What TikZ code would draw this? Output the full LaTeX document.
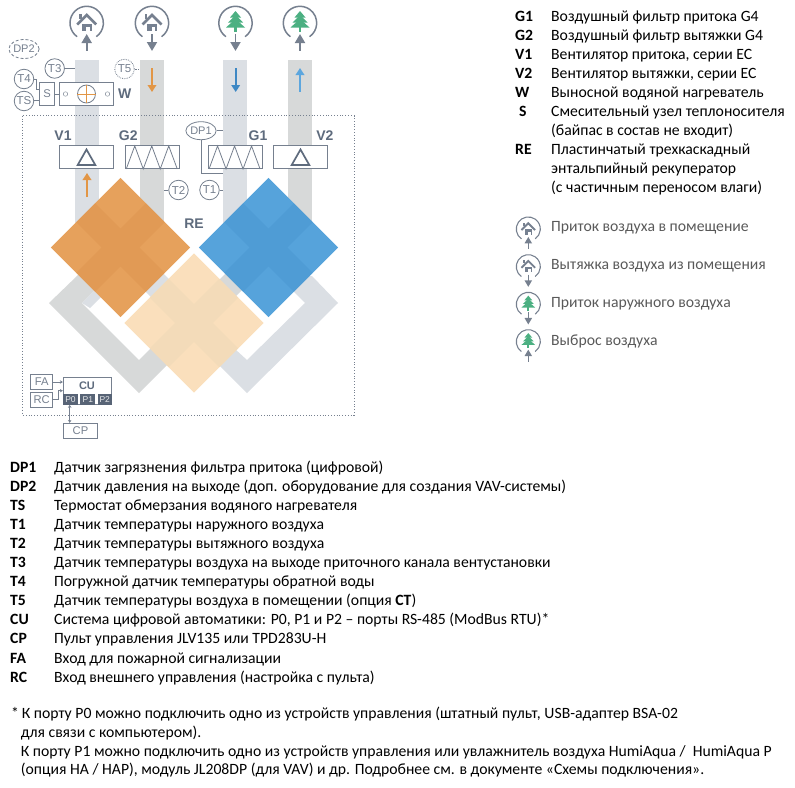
\documentclass[tikz,border=0pt]{standalone}
\usepackage{fontspec}
\setmainfont{Carlito}
\newfontfamily\schemefont{Liberation Sans}
\usepackage{xcolor}
\usetikzlibrary{positioning,arrows.meta,calc,shapes.geometric}
\definecolor{ductblue}{RGB}{219,223,228}
\definecolor{ductgray}{RGB}{215,217,217}
\definecolor{linegray}{RGB}{118,128,143}
\definecolor{inkgray}{RGB}{94,107,125}
\definecolor{portdark}{RGB}{88,100,118}
\definecolor{heatorange}{RGB}{226,150,70}
\definecolor{coldblue}{RGB}{62,136,196}
\definecolor{paleblue}{RGB}{92,166,222}
\definecolor{treegreen}{RGB}{76,176,130}
\definecolor{legendgray}{RGB}{89,89,89}
\definecolor{recorange}{RGB}{230,161,92}
\definecolor{recorangedark}{RGB}{216,142,72}
\definecolor{recblue}{RGB}{86,163,219}
\definecolor{recbluedark}{RGB}{68,145,204}
\definecolor{recpale}{RGB}{250,223,188}
\definecolor{recpaledark}{RGB}{230,213,180}
% house and tree drawn round the origin of the icon
\newcommand{\houseicon}[1]{
  \fill[inkgray!85] (-4.8,0.5) rectangle (4.8,8);
  \fill[white] (-0.4,3.5) rectangle (3.2,8);
  \fill[linegray] (-7.5,-4.5) rectangle (-4.7,-9);
  \draw[linegray, line width=#1*2.6pt] (-9.5,1.5) -- (0,-8) -- (9.5,1.5);
}
\newcommand{\treeicon}[1]{
  \fill[treegreen] (0,-12) -- (5.5,-5.5) -- (-5.5,-5.5) -- cycle;
  \fill[treegreen] (0,-8) -- (7.5,-0.5) -- (-7.5,-0.5) -- cycle;
  \fill[treegreen] (0,-4) -- (9.5,4.5) -- (-9.5,4.5) -- cycle;
  \fill[treegreen] (-1.2,4) rectangle (1.2,9);
}
\newcommand{\recdiamond}[3]{
  \begin{scope}[shift={#1}, rotate=45]
    \fill[#2] (-49.2,-49.2) rectangle (49.2,49.2);
    \fill[#3, fill opacity=0.35] (-49.2,-13.4) rectangle (49.2,13.4) (-13.4,-49.2) rectangle (13.4,49.2);
  \end{scope}
}
\begin{document}
\begin{tikzpicture}[x=1pt, y=-1pt,
  sensor/.style={draw=linegray, circle, minimum size=19.5pt, inner sep=0pt, font=\schemefont\fontsize{11.5}{11.5}\selectfont, text=linegray, fill=white, line width=0.8pt},
  optsensor/.style={sensor, densely dotted},
  unitbox/.style={draw=linegray, minimum height=23pt, inner sep=0pt, fill=white, line width=0.9pt},
  tagbox/.style={draw=linegray, inner sep=0pt, line width=0.9pt, fill=white, font=\schemefont\fontsize{11.2}{11.2}\selectfont, text=linegray},
  port/.style={fill=portdark, minimum height=10.7pt, inner sep=0pt, font=\schemefont\fontsize{8.5}{8.5}\selectfont, text=white!85!portdark},
  tag/.style={font=\schemefont\bfseries\fontsize{14}{14}\selectfont, text=inkgray, inner sep=0pt},
  wire/.style={draw=linegray, line width=0.8pt},
  arr/.style={wire, -{Stealth[length=3pt,width=3.5pt]}},
  flow/.style={line width=1.9pt, -{Triangle[length=7pt,width=8.5pt]}},
  flowup/.style={<-},
  flowdown/.style={->},
  lbl/.style={anchor=mid west, inner sep=0pt, yshift=-2pt, font=\fontsize{15.7}{15.7}\selectfont},
  key/.style={lbl, font=\bfseries\fontsize{15.7}{15.7}\selectfont}]
\useasboundingbox (0,0) rectangle (795,787);
% ducts
\fill[ductblue] (75,60) rectangle (98.7,240);
\fill[ductgray] (140,60) rectangle (164,240);
\fill[ductblue] (223,60) rectangle (247,240);
\fill[ductgray] (288,60) rectangle (312,240);
\fill[ductgray] (49,303) -- (139,393) -- (175,357) -- (150,349) -- (139,360) -- (82,303) -- (110,275) -- (78,275) -- cycle;
\fill[ductblue] (338,303) -- (247,393) -- (212,358) -- (235,349) -- (247,360) -- (305,303) -- (280,278) -- (312,276) -- cycle;
\fill[ductblue] (82,303) -- (96,289) -- (102,296) -- (90,308) -- cycle;
\fill[ductblue] (155,265) -- (175,285) -- (157,303) -- (137,283) -- cycle;
\fill[ductgray] (234.5,264.5) -- (251,281) -- (228.5,303.5) -- (212,287) -- cycle;
\draw[linegray, line width=0.8pt, dotted] (22.7,115.7) rectangle (354,415);
% recuperator
\recdiamond{(194,323)}{recpale}{recpaledark}
\recdiamond{(120.5,247.5)}{recorange}{recorangedark}
\recdiamond{(268.5,247.5)}{recblue}{recbluedark}
\node[tag] (re) at (194,224) {RE};
% fans and filters
\node[unitbox, minimum width=54pt] (vone) at (86.5,157) {};
\node[unitbox, minimum width=54pt] (gtwo) at (152.7,157) {};
\node[unitbox, minimum width=54pt] (gone) at (235.5,157) {};
\node[unitbox, minimum width=54pt] (vtwo) at (300.5,157) {};
\foreach \n in {vone,vtwo}
  \draw[inkgray, line width=1.7pt, line join=miter] ($(\n)+(-8.8,8)$) -- ($(\n)+(0,-7.5)$) -- ($(\n)+(8.8,8)$) -- cycle;
\foreach \n in {gtwo,gone}
  \draw[linegray, line width=0.8pt] ($(\n.south west)+(1,0)$) -- ++(8.5,-23) -- ++(8.5,23) -- ++(8.5,-23) -- ++(8.5,23) -- ++(8.5,-23) -- ++(8.5,23);
\node[tag, above=4pt of vone.north west, xshift=4pt] (vonetag) {V1};
\node[tag, above=4pt of gtwo.north west, xshift=3pt] (gtwotag) {G2};
\node[tag, above=4pt of gone.north east, xshift=-5pt] (gonetag) {G1};
\node[tag, above=4pt of vtwo.north east, xshift=-3pt] (vtwotag) {V2};
% sensors
\node[optsensor, ellipse, minimum width=29pt, minimum height=19pt, densely dashed, font=\schemefont\fontsize{11}{11}\selectfont] (dptwo) at (24,49) {DP2};
\node[sensor] (tthree) at (54.7,68.5) {T3};
\node[optsensor] (tfive) at (124.5,69) {T5};
\node[sensor] (tfour) at (24,79) {T4};
\node[sensor] (ts) at (24,101) {TS};
\node[sensor, ellipse, minimum width=29pt, minimum height=18pt, font=\schemefont\fontsize{11}{11}\selectfont] (dpone) at (201,130.7) {DP1};
\node[sensor] (tone) at (209.5,190) {T1};
\node[sensor] (ttwo) at (178.5,190) {T2};
\coordinate (tthreeend) at (75,68.5);
\coordinate (tfiveend) at (140,69);
\coordinate (dponeend) at (223,130.7);
\coordinate (dponelow) at (223.3,173.3);
\coordinate (toneend) at (223,190);
\coordinate (ttwoend) at (164,190);
\draw[wire] (tthree) -- (tthreeend);
\draw[wire, densely dotted] (tfive) -- (tfiveend);
\draw[wire] (dpone) -- (dponeend);
\draw[wire] (dpone.south) -- (dpone.south |- dponelow) -- (dponelow);
\draw[wire] (tone) -- (toneend);
\draw[wire] (ttwo) -- (ttwoend);
% heater
\node[unitbox, minimum width=54pt] (heater) at (86.5,94) {};
\node[tagbox, minimum width=15pt, minimum height=23pt] (mixer) at (47,94) {S};
\node[tag, right=4pt of heater] (heatertag) {W};
\node[draw=linegray, circle, minimum size=18pt, inner sep=0pt, line width=0.8pt] (coil) at (heater) {};
\draw[heatorange, line width=0.8pt] (coil.west) -- (coil.east) (coil.north) -- (coil.south);
\node[draw=linegray, circle, minimum size=4.5pt, inner sep=0pt] (portl) at (65.5,94) {};
\node[draw=linegray, circle, minimum size=4.5pt, inner sep=0pt] (portr) at (107.5,94) {};
\draw[wire] (mixer) -- (heater);
\draw[wire] (tfour.east) -- ++(2.5,0) |- ($(mixer.west)+(0,-5)$);
\draw[wire] (ts.east |- 0,100.7) -- (mixer.west |- 0,100.7);
% flow arrows in the ducts
\coordinate (flowa) at (87,197);   \coordinate (flowb) at (87,173);
\coordinate (flowc) at (152,68);   \coordinate (flowd) at (152,92);
\coordinate (flowe) at (235.7,68); \coordinate (flowf) at (235.7,92);
\coordinate (flowg) at (300,92);   \coordinate (flowh) at (300,68);
\draw[flow, heatorange] (flowa) -- (flowb);
\draw[flow, heatorange] (flowc) -- (flowd);
\draw[flow, coldblue] (flowe) -- (flowf);
\draw[flow, paleblue] (flowg) -- (flowh);
% icons
\foreach \nm/\cx/\cy/\sc/\icn/\tip in {
  ica/86.7/23/1/\houseicon/flowup, icb/152/23/1/\houseicon/flowdown,
  icc/235.5/23/1/\treeicon/flowdown, icd/300/23/1/\treeicon/flowup,
  ice/528.3/229/0.72/\houseicon/flowup, icf/528.3/266.7/0.72/\houseicon/flowdown,
  icg/528.3/304.3/0.72/\treeicon/flowdown, ich/528.3/341.7/0.72/\treeicon/flowup}{
  \begin{scope}[shift={(\cx,\cy)}, scale=\sc]
    \draw[linegray, line width=\sc*1.5pt] (125:16.7) arc[start angle=125, end angle=415, radius=16.7];
    \icn{\sc}
    \coordinate (\nm a) at (0,11);
    \coordinate (\nm b) at (0,28);
    \draw[linegray, line width=\sc*1.9pt, \tip, >={Triangle[length=\sc*9pt,width=\sc*10pt]}] (\nm a) -- (\nm b);
  \end{scope}
}
% control unit
\node[tagbox, minimum width=48.4pt, minimum height=27.4pt] (cu) at (87.5,391) {};
\node[port, minimum width=14.3pt] (pzero) at (70.5,399.3) {P0};
\node[port, minimum width=15.3pt] (pone) at (87.8,399.3) {P1};
\node[port, minimum width=14pt] (ptwo) at (104.7,399.3) {P2};
\node[tag, font=\schemefont\bfseries\fontsize{11}{11}\selectfont] (cutag) at (87,385.5) {CU};
\node[tagbox, minimum width=22pt, minimum height=14.6pt] (fa) at (41.7,382) {FA};
\node[tagbox, minimum width=22pt, minimum height=15pt] (rc) at (41.7,399.8) {RC};
\node[tagbox, minimum width=34.4pt, minimum height=14.7pt] (cp) at (80.5,430.7) {CP};
\draw[arr] (fa) -- (fa -| cu.west);
\draw[arr] (rc.east) -- ++(4.8,0) |- (cu.west |- 0,390.7);
\draw[arr, {Stealth[length=3pt,width=3.5pt]}-{Stealth[length=3pt,width=3.5pt]}] (pzero.south -| 69.7,0) -- (cp.north -| 69.7,0);
% upper legend
\foreach \k/\t/\kx/\ky in {
  G1/{Воздушный фильтр притока G4}/515/16.7,
  G2/{Воздушный фильтр вытяжки G4}/515/35.8,
  V1/{Вентилятор притока, серии EC}/515/54.9,
  V2/{Вентилятор вытяжки, серии EC}/515/74,
  W/{Выносной водяной нагреватель}/515/93,
  S/{Смесительный узел теплоносителя}/519/112,
  /{(байпас в состав не входит)}/515/131,
  RE/{Пластинчатый трехкаскадный}/515/150,
  /{энтальпийный рекуператор}/515/169,
  /{(с частичным переносом влаги)}/515/188}{
  \node[key] at (\kx,\ky) {\k};
  \node[lbl] at (551,\ky) {\t};
}
\node[lbl, text=legendgray] (legsupply) at (551,227) {Приток воздуха в помещение};
\node[lbl, text=legendgray] (legextract) at (551,265) {Вытяжка воздуха из помещения};
\node[lbl, text=legendgray] (legoutdoor) at (551,303) {Приток наружного воздуха};
\node[lbl, text=legendgray] (legexhaust) at (551,341) {Выброс воздуха};
% lower legend
\foreach \k/\t [count=\i from 0] in {
  DP1/{Датчик загрязнения фильтра притока (цифровой)},
  DP2/{Датчик давления на выходе (доп. оборудование для создания VAV-системы)},
  TS/{Термостат обмерзания водяного нагревателя},
  T1/{Датчик температуры наружного воздуха},
  T2/{Датчик температуры вытяжного воздуха},
  T3/{Датчик температуры воздуха на выходе приточного канала вентустановки},
  T4/{Погружной датчик температуры обратной воды},
  T5/{Датчик температуры воздуха в помещении (опция \textbf{CT})},
  CU/{Система цифровой автоматики: P0, P1 и P2 – порты RS-485 (ModBus RTU)*},
  CP/{Пульт управления JLV135 или TPD283U-H},
  FA/{Вход для пожарной сигнализации},
  RC/{Вход внешнего управления (настройка с пульта)}}{
  \node[key] (key\i) at (10,467.7+\i*19.1) {\k};
  \node[lbl] (txt\i) at (54,467.7+\i*19.1) {\t};
}
% note
\node[lbl] (star) at (11,714) {*};
\node[lbl] (notea) at (21.7,714) {К порту P0 можно подключить одно из устройств управления (штатный пульт, USB-адаптер BSA-02};
\node[lbl] (noteb) at (20.7,733) {для связи с компьютером).};
\node[lbl] (notec) at (20.7,751.7) {К порту P1 можно подключить одно из устройств управления или увлажнитель воздуха HumiAqua /\ \ HumiAqua P};
\node[lbl] (noted) at (20.7,770.5) {(опция HA / HAP), модуль JL208DP (для VAV) и др. Подробнее см. в документе «Схемы подключения».};
\end{tikzpicture}
\end{document}
